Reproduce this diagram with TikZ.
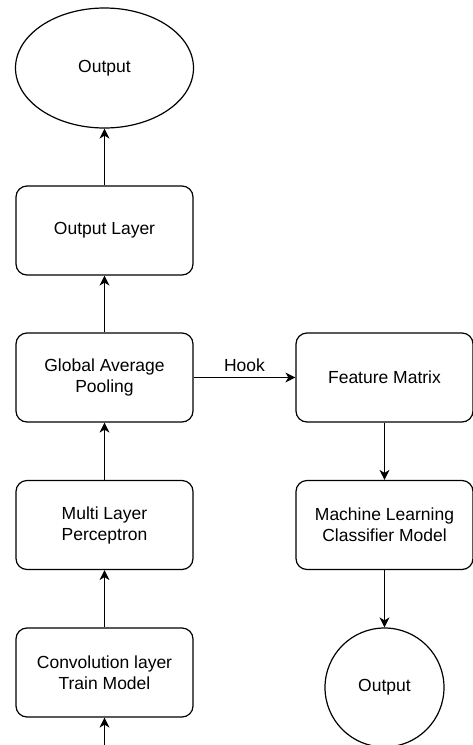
\documentclass[tikz,border=0pt]{standalone}
\usepackage{fontspec}
\setmainfont{Liberation Sans}
\usetikzlibrary{arrows.meta,shapes.geometric}
\begin{document}
\begin{tikzpicture}[x=1pt,y=-1pt,
  every node/.style={font=\fontsize{17.5}{21}\selectfont},
  box/.style={draw, line width=1.2pt, rounded corners=11pt, minimum width=177pt, minimum height=89pt, align=center, inner sep=0pt},
  conn/.style={line width=1.2pt, -{Stealth[length=10pt,width=10pt,inset=3pt]}}]
\useasboundingbox (0,0) rectangle (473,745);
\node[draw, line width=1.2pt, ellipse, minimum width=178pt, minimum height=120pt, inner sep=0pt] (out1) at (104.5,68) {Output};
\node[box] (ol) at (104.5,230.5) {Output Layer};
\node[box] (gap) at (104.5,377.5) {Global Average\\Pooling};
\node[box] (mlp) at (104.5,525) {Multi Layer\\Perceptron};
\node[box] (conv) at (104.5,672.5) {Convolution layer\\Train Model};
\node[box] (fm) at (384.5,377.5) {Feature Matrix};
\node[box] (ml) at (384.5,525) {Machine Learning\\Classifier Model};
\node[draw, line width=1.2pt, circle, minimum size=119pt, inner sep=0pt] (out2) at (384.5,687.5) {Output};
\coordinate (in) at (104.5,745);
\draw[conn] (in) -- (conv.south);
\draw[conn] (conv) -- (mlp);
\draw[conn] (mlp) -- (gap);
\draw[conn] (gap) -- (ol);
\draw[conn] (ol) -- (out1);
\draw[conn] (gap) -- node[above=2pt] (hook) {Hook} (fm);
\draw[conn] (fm) -- (ml);
\draw[conn] (ml) -- (out2);
\end{tikzpicture}
\end{document}
